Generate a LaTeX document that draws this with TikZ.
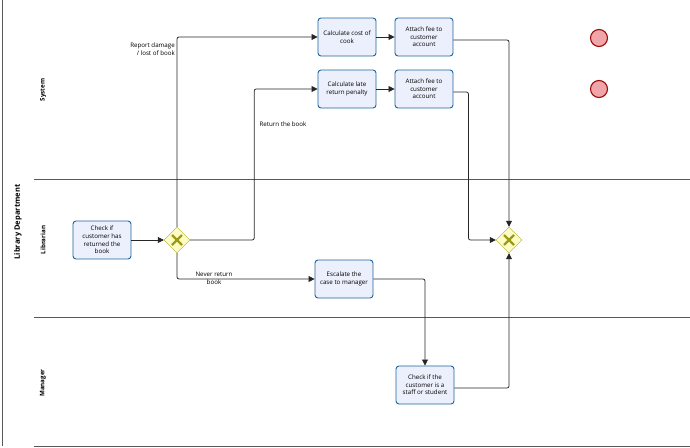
\documentclass[tikz,border=0pt]{standalone}
\usepackage{fontspec}
\setmainfont{Open Sans}
\usetikzlibrary{shapes.geometric,arrows.meta}

\definecolor{taskfill}{RGB}{236,240,252}
\definecolor{taskline}{RGB}{28,100,160}
\definecolor{gatefill}{RGB}{252,252,196}
\definecolor{gateline}{RGB}{176,176,40}
\definecolor{gatemark}{RGB}{156,156,20}
\definecolor{endfill}{RGB}{238,166,168}
\definecolor{endline}{RGB}{160,10,10}

\begin{document}
\begin{tikzpicture}[x=1pt, y=-1pt, font=\fontsize{6.2}{7.6}\selectfont,
    task/.style={draw=taskline, fill=taskfill, line width=0.9pt, rounded corners=3pt,
                 minimum width=58pt, minimum height=38pt, align=center, inner sep=1pt},
    gate/.style={diamond, draw=gateline, fill=gatefill, minimum size=26pt, inner sep=0pt},
    finish/.style={circle, draw=endline, fill=endfill, line width=1.1pt, minimum size=17pt},
    flow/.style={draw=black!85, line width=0.75pt, -{Triangle[length=6pt,width=6pt]}, rounded corners=2pt},
    lane/.style={draw=black!65, line width=0.8pt},
    lanename/.style={rotate=90, font=\fontsize{6.2}{7}\selectfont\bfseries}]
                    \useasboundingbox (0,0) rectangle (690,447);

                    % pool and lanes
                    \draw[lane] (2,0) -- (2,446);
                    \draw[lane] (34,179) -- (690,179);
                    \draw[lane] (34,317) -- (690,317);
                    \draw[lane] (34,446) -- (690,446);
                    \node[rotate=90, font=\fontsize{7.5}{9}\selectfont\bfseries] (pool) at (18,222) {Library Department};
                    \node[lanename] (sys) at (43,90) {System};
                    \node[lanename] (lib) at (43,240) {Librarian};
                    \node[lanename] (mgr) at (43,383) {Manager};

                    % tasks
                    \node[task] (check) at (102,240) {Check if\\customer has\\returned the\\book};
                    \node[task] (cost) at (347,37) {Calculate cost of\\cook};
                    \node[task] (fee1) at (424,37) {Attach fee to\\customer\\account};
                    \node[task] (late) at (347,89) {Calculate late\\return penalty};
                    \node[task] (fee2) at (424,89) {Attach fee to\\customer\\account};
                    \node[task] (esc) at (344,279) {Escalate the\\case to manager};
                    \node[task] (staff) at (425,385) {Check if the\\customer is a\\staff or student};

                    % gateways
                    \node[gate] (g1) at (177,240) {};
                    \node[gate] (g2) at (509,240) {};
                    \foreach \g in {g1,g2} {
                        \draw[gatemark, line width=2.2pt] (\g.center) ++(-5,-5) -- ++(10,10);
                        \draw[gatemark, line width=2.2pt] (\g.center) ++(-5,5) -- ++(10,-10);
                    }

                    % end events
                    \node[finish] (end1) at (599,38) {};
                    \node[finish] (end2) at (599,89) {};

                    % flows
                    \draw[flow] (check) -- (g1);
                    \draw[flow] (g1.north) |- (cost.west);
                    \draw[flow] (g1.east) -- ++(64,0) |- (late.west);
                    \draw[flow] (g1.south) |- (esc.west);
                    \draw[flow] (cost) -- (fee1);
                    \draw[flow] (late) -- (fee2);
                    \draw[flow] ([yshift=-3pt]fee1.east) -| (g2.north);
                    \draw[flow] ([yshift=-3pt]fee2.east) -- ++(15,0) |- (g2.west);
                    \draw[flow] (esc.east) -| (staff.north);
                    \draw[flow] ([yshift=-3pt]staff.east) -| (g2.south);

                    % flow labels
                    \node[anchor=north east, align=right, inner sep=1pt] (lbldmg) at (176,42) {Report damage\\/ lost of book};
                    \node (lblret) at (283,124) {Return the book};
                    \node[align=center, inner sep=1pt] (lblnev) at (214,278.5) {Never return\\book};
                \end{tikzpicture}
\end{document}
